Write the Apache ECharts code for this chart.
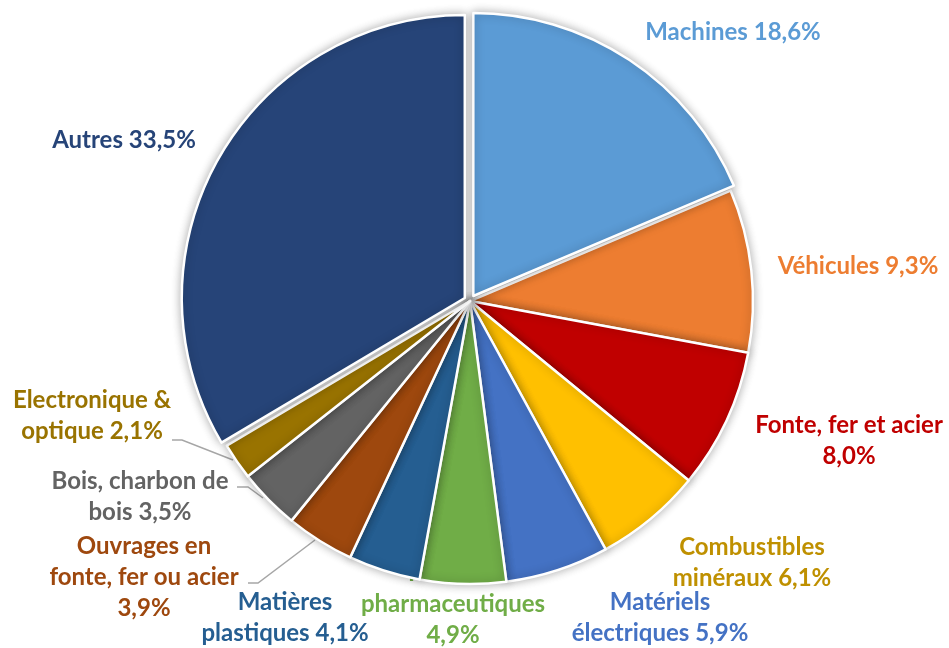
<!DOCTYPE html>
<html>
<head>
<meta charset="utf-8">
<script src="https://cdn.jsdelivr.net/npm/echarts@6/dist/echarts.min.js"></script>
<style>
  html, body { margin: 0; padding: 0; background: #fff; }
  #main { width: 949px; height: 648px; }
</style>
</head>
<body>
<div id="main"></div>
<script>
// parts des exportations, sens horaire depuis midi
const categories = [
  'Machines', 'Véhicules', 'Fonte, fer et acier', 'Combustibles minéraux',
  'Matériels électriques', 'Produits pharmaceutiques', 'Matières plastiques',
  'Ouvrages en fonte, fer ou acier', 'Bois, charbon de bois',
  'Electronique & optique', 'Autres'
]
const shares = [18.6, 9.3, 8.0, 6.1, 5.9, 4.9, 4.1, 3.9, 3.5, 2.1, 33.5]
// texte des étiquettes, {v} = valeur
const labelTexts = [
  'Machines {v}', 'Véhicules {v}', 'Fonte, fer et acier\n{v}',
  'Combustibles\nminéraux {v}', 'Matériels\nélectriques {v}',
  'Produits\npharmaceutiques\n{v}', 'Matières\nplastiques {v}',
  'Ouvrages en\nfonte, fer ou acier\n{v}', 'Bois, charbon de\nbois {v}',
  'Electronique &\noptique {v}', 'Autres {v}'
]
const exploded = ['Machines', 'Autres']

const sliceColors = ['#5B9BD5', '#ED7D31', '#C00000', '#FFC000', '#4472C4',
  '#70AD47', '#255E91', '#9E480E', '#636363', '#997300', '#264478']
const textColors = ['#5B9BD5', '#ED7D31', '#C00000', '#BF9000', '#4472C4',
  '#70AD47', '#255E91', '#9E480E', '#636363', '#997300', '#264478']

// position des étiquettes (centre du bloc) + traits de rappel
const labelPos = [
  [733, 32], [858, 266], [849, 441], [752, 563], [660, 618],
  [453, 604], [285, 618], [144, 577], [140, 497], [92, 416], [124, 140]
]
const leaderLines = {
  7: [[248, 583], [258, 583], [315, 540]],
  8: [[237, 487], [248, 487], [263, 498]],
  9: [[172, 440], [182, 440], [233, 460]]
}

const fmt = v => v.toFixed(1).replace('.', ',') + '%'

const chart = echarts.init(document.getElementById('main'))

const CENTER = [470, 301]
const RADIUS = 283

chart.setOption({
  animation: false,
  backgroundColor: '#fff',
  series: [
    {
      // couche des étiquettes, sous le camembert
      type: 'pie',
      z: 1,
      center: CENTER,
      radius: RADIUS,
      startAngle: 90,
      clockwise: true,
      silent: true,
      data: categories.map((name, i) => ({
        name,
        value: shares[i],
        itemStyle: { color: 'rgba(0,0,0,0)' },
        label: { color: textColors[i] },
        labelLine: { show: !!leaderLines[i] }
      })),
      label: {
        show: true,
        position: 'outside',
        overflow: 'none',
        fontFamily: 'Lato',
        fontWeight: 'bold',
        fontSize: 24,
        lineHeight: 31,
        align: 'center',
        formatter: p => labelTexts[p.dataIndex].replace('{v}', fmt(p.value))
      },
      labelLine: {
        show: false,
        lineStyle: { color: '#A6A6A6', width: 1.5 }
      },
      labelLayout: p => {
        const pos = labelPos[p.dataIndex]
        const out = { x: pos[0], y: pos[1], align: 'center', verticalAlign: 'middle' }
        if (leaderLines[p.dataIndex]) out.labelLinePoints = leaderLines[p.dataIndex]
        return out
      }
    },
    {
      type: 'pie',
      z: 2,
      center: CENTER,
      radius: RADIUS,
      startAngle: 90,
      clockwise: true,
      selectedMode: 'multiple',
      selectedOffset: 6,
      silent: true,
      data: categories.map((name, i) => ({
        name,
        value: shares[i],
        selected: exploded.indexOf(name) >= 0,
        itemStyle: { color: sliceColors[i] }
      })),
      label: { show: false },
      labelLine: { show: false },
      itemStyle: {
        borderColor: '#fff',
        borderWidth: 2.5,
        shadowBlur: 10,
        shadowColor: 'rgba(0,0,0,0.3)'
      }
    }
  ]
})
</script>
</body>
</html>
